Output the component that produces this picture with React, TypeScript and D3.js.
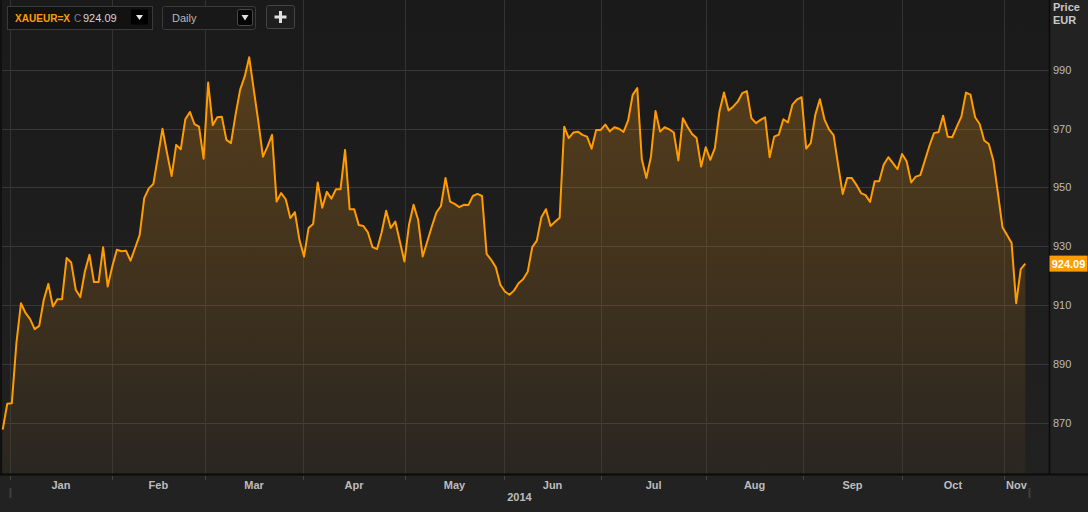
import React, { useEffect, useRef } from 'react';
import * as d3 from 'd3';

// daily closes (Dec 31 2013 .. early Nov 2014)
const prices: number[] = [
  867.6, 876.4, 876.6, 897.0, 910.6, 907.3, 905.2, 901.8, 902.9, 911.8,
  917.2, 909.5, 912.0, 912.0, 926.0, 924.5, 915.2, 912.7, 921.4, 927.1,
  917.8, 917.8, 929.7, 916.3, 923.1, 928.8, 928.3, 928.5, 925.1, 929.4,
  933.8, 946.4, 949.7, 951.2, 960.5, 970.0, 961.7, 953.9, 964.5, 963.0,
  973.2, 975.7, 971.6, 970.7, 959.8, 985.7, 971.2, 973.9, 974.1, 966.2,
  965.1, 974.7, 983.2, 987.7, 994.3, 983.2, 972.4, 960.5, 963.9, 967.9,
  945.2, 948.1, 946.0, 939.6, 941.6, 932.2, 926.5, 936.2, 937.6, 951.7,
  943.1, 948.5, 946.2, 949.4, 949.4, 962.8, 942.6, 942.6, 937.2, 936.9,
  934.7, 929.7, 929.0, 934.7, 942.1, 936.2, 938.4, 931.6, 924.8, 937.3,
  944.1, 939.0, 926.5, 931.6, 936.7, 941.5, 943.7, 953.2, 945.2, 944.4,
  943.3, 944.1, 944.0, 947.1, 947.8, 947.1, 927.4, 925.4, 922.9, 916.9,
  914.6, 913.5, 914.9, 917.4, 918.8, 921.3, 929.7, 931.9, 939.9, 942.6,
  936.9, 938.3, 939.7, 970.7, 966.8, 968.7, 969.0, 967.9, 967.3, 963.2,
  969.6, 969.6, 971.4, 969.1, 970.5, 970.0, 968.9, 972.8, 981.5, 983.8,
  959.6, 953.2, 960.5, 976.0, 969.0, 970.5, 969.8, 968.7, 959.2, 973.6,
  970.7, 968.2, 966.8, 957.1, 963.7, 959.4, 963.4, 975.8, 982.3, 976.2,
  977.5, 979.2, 982.1, 982.8, 973.6, 971.9, 973.0, 973.9, 960.3, 967.3,
  968.0, 973.2, 972.1, 978.2, 980.0, 980.7, 963.2, 965.1, 974.7, 980.0,
  973.2, 969.8, 967.8, 957.7, 947.8, 953.2, 953.2, 950.9, 948.1, 947.4,
  945.1, 952.1, 952.1, 957.8, 960.3, 958.3, 956.2, 961.4, 958.9, 951.7,
  953.7, 954.2, 959.2, 964.2, 968.5, 968.9, 974.4, 967.3, 967.1, 970.7,
  974.1, 982.3, 981.6, 973.9, 971.6, 966.0, 964.8, 959.2, 948.1, 936.5,
  933.8, 931.1, 910.6, 922.2, 924.09,
];

const monthLabels = ['Jan', 'Feb', 'Mar', 'Apr', 'May', 'Jun', 'Jul', 'Aug', 'Sep', 'Oct', 'Nov'];
// where each month begins, in trading-day index units
const monthStarts = [1.6, 23.9, 44.3, 65.8, 88.1, 109.8, 131.1, 154.1, 175.3, 197.0, 219.3];
const yearLabel = '2014';
const yearSpan = [1.6, 224.8];
const priceTicks = [870, 890, 910, 930, 950, 970, 990];

const symbol = 'XAUEUR=X';
const interval = 'Daily';
const currency = 'EUR';

const App: React.FC = () => {
  const svgRef = useRef<SVGSVGElement>(null);

  useEffect(() => {
    if (!svgRef.current) return;
    const W = 1088;
    const H = 512;
    const plotRight = 1049;
    const plotBottom = 474;
    const font = '"Liberation Sans", Arial, sans-serif';

    const svg = d3.select(svgRef.current);
    svg.selectAll('*').remove();
    svg.attr('width', W).attr('height', H);

    const x = d3.scaleLinear().domain([0, prices.length - 1]).range([2.7, 1025.3]);
    const y = d3.scaleLinear().domain([852.5, 1013.8]).range([plotBottom, 0]);

    const defs = svg.append('defs');
    const bg = defs.append('linearGradient').attr('id', 'plotBg')
      .attr('x1', 0).attr('y1', 0).attr('x2', 0).attr('y2', 1);
    bg.append('stop').attr('offset', '0%').attr('stop-color', '#1a1a1a');
    bg.append('stop').attr('offset', '100%').attr('stop-color', '#212121');

    const ag = defs.append('linearGradient').attr('id', 'areaFill')
      .attr('gradientUnits', 'userSpaceOnUse')
      .attr('x1', 0).attr('y1', 0).attr('x2', 0).attr('y2', plotBottom);
    ag.append('stop').attr('offset', '0%').attr('stop-color', '#f59a1a').attr('stop-opacity', 0.3);
    ag.append('stop').attr('offset', '55%').attr('stop-color', '#f59a1a').attr('stop-opacity', 0.17);
    ag.append('stop').attr('offset', '100%').attr('stop-color', '#f59a1a').attr('stop-opacity', 0.04);

    // panels
    svg.append('rect').attr('width', W).attr('height', H).attr('fill', '#222222');
    svg.append('rect').attr('x', 0).attr('y', 0).attr('width', plotRight).attr('height', plotBottom)
      .attr('fill', 'url(#plotBg)');
    svg.append('rect').attr('x', 0).attr('y', 0).attr('width', 2).attr('height', plotBottom)
      .attr('fill', '#101010');

    // grid
    svg.append('g').selectAll('line').data(priceTicks).enter().append('line')
      .attr('x1', 2).attr('x2', plotRight)
      .attr('y1', d => Math.round(y(d)) + 0.5).attr('y2', d => Math.round(y(d)) + 0.5)
      .attr('stroke', '#383838');
    svg.append('g').selectAll('line').data(monthStarts).enter().append('line')
      .attr('x1', d => Math.round(x(d)) + 0.5).attr('x2', d => Math.round(x(d)) + 0.5)
      .attr('y1', 0).attr('y2', plotBottom)
      .attr('stroke', '#333333');

    // area + line
    const area = d3.area<number>()
      .x((_, i) => x(i))
      .y0(plotBottom)
      .y1(d => y(d));
    svg.append('path').datum(prices).attr('d', area).attr('fill', 'url(#areaFill)');

    const line = d3.line<number>()
      .x((_, i) => x(i))
      .y(d => y(d));
    svg.append('path').datum(prices).attr('d', line)
      .attr('fill', 'none').attr('stroke', '#ff9c00').attr('stroke-width', 2)
      .attr('stroke-linejoin', 'round');

    // axis lines
    svg.append('line').attr('x1', plotRight + 0.5).attr('x2', plotRight + 0.5)
      .attr('y1', 0).attr('y2', plotBottom).attr('stroke', '#0b0b0b').attr('stroke-width', 1.5);
    svg.append('line').attr('x1', 0).attr('x2', W)
      .attr('y1', plotBottom + 0.5).attr('y2', plotBottom + 0.5)
      .attr('stroke', '#0b0b0b').attr('stroke-width', 2);

    // month ticks and labels
    svg.append('g').selectAll('line').data(monthStarts).enter().append('line')
      .attr('x1', d => Math.round(x(d)) + 0.5).attr('x2', d => Math.round(x(d)) + 0.5)
      .attr('y1', plotBottom + 2).attr('y2', plotBottom + 6)
      .attr('stroke', '#444');
    const ends = [...monthStarts.slice(1), yearSpan[1]];
    svg.append('g').selectAll('text').data(monthLabels).enter().append('text')
      .attr('x', (_, i) => (x(monthStarts[i]) + x(ends[i])) / 2)
      .attr('y', 489)
      .attr('text-anchor', 'middle')
      .attr('font-family', font).attr('font-size', 11).attr('font-weight', 'bold')
      .attr('fill', '#bdbdbd')
      .text(d => d);

    svg.append('g').selectAll('line').data(yearSpan).enter().append('line')
      .attr('x1', d => Math.round(x(d)) + 0.5).attr('x2', d => Math.round(x(d)) + 0.5)
      .attr('y1', 488).attr('y2', 498)
      .attr('stroke', '#3e3e3e').attr('stroke-width', 2);
    svg.append('text')
      .attr('x', (x(yearSpan[0]) + x(yearSpan[1])) / 2).attr('y', 501)
      .attr('text-anchor', 'middle')
      .attr('font-family', font).attr('font-size', 11).attr('font-weight', 'bold')
      .attr('fill', '#bdbdbd')
      .text(yearLabel);

    // price axis
    svg.append('g').selectAll('text').data(priceTicks).enter().append('text')
      .attr('x', 1053).attr('y', d => y(d) + 4)
      .attr('font-family', font).attr('font-size', 11)
      .attr('fill', '#bbbbbb')
      .text(d => d);
    svg.append('text').attr('x', 1053).attr('y', 10.5)
      .attr('font-family', font).attr('font-size', 11).attr('font-weight', 'bold')
      .attr('fill', '#c8c8c8').text('Price');
    svg.append('text').attr('x', 1053).attr('y', 23.5)
      .attr('font-family', font).attr('font-size', 11).attr('font-weight', 'bold')
      .attr('fill', '#c8c8c8').text(currency);

    const last = prices[prices.length - 1];
    svg.append('rect').attr('x', plotRight + 0.5).attr('y', y(last) - 8)
      .attr('width', 38).attr('height', 16).attr('fill', '#ff9c00');
    svg.append('text').attr('x', plotRight + 19.5).attr('y', y(last) + 4)
      .attr('text-anchor', 'middle')
      .attr('font-family', font).attr('font-size', 11).attr('font-weight', 'bold')
      .attr('fill', '#ffffff').text(last.toFixed(2));

    // toolbar
    const tb = svg.append('g');
    tb.append('rect').attr('x', 7.5).attr('y', 6.5).attr('width', 145).attr('height', 23)
      .attr('fill', '#121212').attr('stroke', '#3a3a3a');
    tb.append('text').attr('x', 15).attr('y', 21.5)
      .attr('font-family', font).attr('font-size', 10).attr('font-weight', 'bold')
      .attr('textLength', 55).attr('lengthAdjust', 'spacingAndGlyphs')
      .attr('fill', '#ff9c00').text(symbol);
    tb.append('text').attr('x', 74).attr('y', 21.5)
      .attr('font-family', font).attr('font-size', 10)
      .attr('fill', '#808080').text('C');
    tb.append('text').attr('x', 83).attr('y', 21.5)
      .attr('font-family', font).attr('font-size', 11)
      .attr('fill', '#d6d6d6').text(last.toFixed(2));
    tb.append('rect').attr('x', 131).attr('y', 9.5).attr('width', 17).attr('height', 15)
      .attr('fill', '#000');
    tb.append('path').attr('d', 'M136,15 L143,15 L139.5,20 Z').attr('fill', '#e8e8e8');

    tb.append('rect').attr('x', 162.5).attr('y', 6.5).attr('width', 93).attr('height', 23)
      .attr('rx', 2).attr('fill', '#181818').attr('stroke', '#3a3a3a');
    tb.append('text').attr('x', 172).attr('y', 22)
      .attr('font-family', font).attr('font-size', 11)
      .attr('fill', '#b8b8b8').text(interval);
    tb.append('rect').attr('x', 237.5).attr('y', 9.5).attr('width', 15).attr('height', 16)
      .attr('rx', 2).attr('fill', '#050505').attr('stroke', '#4a4a4a');
    tb.append('path').attr('d', 'M241.5,15 L248.5,15 L245,20.5 Z').attr('fill', '#e0e0e0');

    tb.append('rect').attr('x', 266.5).attr('y', 5.5).attr('width', 28).attr('height', 23)
      .attr('rx', 2).attr('fill', '#1e1e1e').attr('stroke', '#444');
    tb.append('path').attr('d', 'M280.5,11 V23 M274.5,17 H286.5')
      .attr('stroke', '#e0e0e0').attr('stroke-width', 3);
  }, []);

  return (
    <div style={{ position: 'fixed', left: 0, top: 0, width: 1088, height: 512, background: '#222' }}>
      <svg ref={svgRef} style={{ display: 'block' }}></svg>
    </div>
  );
};

export default App;
